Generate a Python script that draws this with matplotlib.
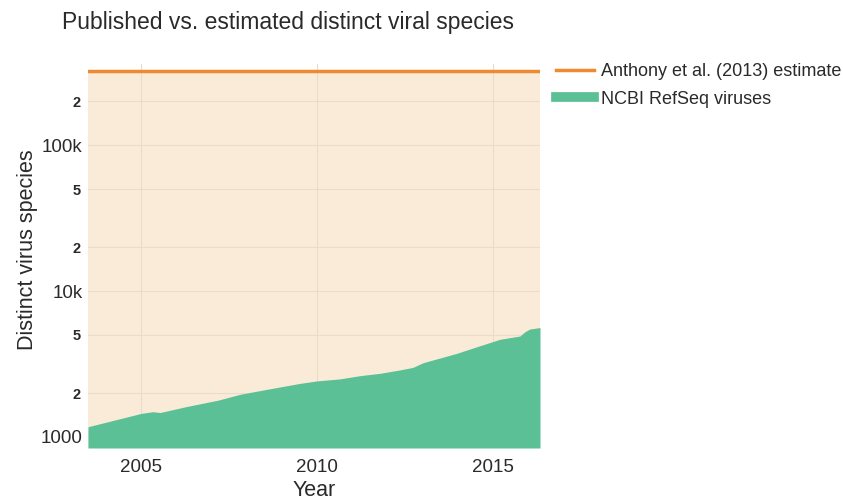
import matplotlib.pyplot as plt
from matplotlib.lines import Line2D
from matplotlib.ticker import FixedLocator, FixedFormatter

# NCBI RefSeq virus counts
years = [2003.49, 2005.0, 2005.34, 2005.54, 2006.26, 2007.2, 2007.81, 2008.76,
         2009.52, 2009.99, 2010.65, 2011.22, 2011.79, 2012.36, 2012.73, 2013.02,
         2013.97, 2014.54, 2015.2, 2015.77, 2015.91, 2016.05, 2016.29, 2016.34]
refseq = [1175, 1450, 1490, 1470, 1610, 1790, 1960, 2160,
          2330, 2420, 2500, 2630, 2730, 2880, 3000, 3230,
          3740, 4150, 4670, 4920, 5260, 5490, 5600, 5620]
anthony_estimate = 320000

xticks = [2005, 2010, 2015]
major_y = [1000, 10000, 100000]
major_labels = ['1000', '10k', '100k']
minor_y = [2000, 5000, 20000, 50000, 200000]
minor_labels = ['2', '5', '2', '5', '2']

orange = '#ef8a32'
beige = '#f9ebd8'
green = '#5cc096'
grid_c = '#e9dccb'
text_c = '#2a2a2a'

plt.rcParams['font.family'] = ['Liberation Sans', 'DejaVu Sans']

fig = plt.figure(figsize=(8.43, 5.0), dpi=100)
ax = fig.add_axes([88 / 843, 52 / 500, 452 / 843, 384 / 500])

ymin, ymax = 840, 360000
xmin, xmax = years[0], years[-1]

ax.set_yscale('log')
ax.set_xlim(xmin, xmax)
ax.set_ylim(ymin, ymax)

# beige fill of the estimate down to the axis, orange line on top
ax.fill_between([xmin, xmax], ymin, anthony_estimate, color=beige, lw=0, zorder=1)
ax.plot([xmin, xmax], [anthony_estimate] * 2, color=orange, lw=2.5, zorder=4)
ax.fill_between(years, ymin, refseq, color=green, lw=0, zorder=3)

ax.yaxis.set_major_locator(FixedLocator(major_y))
ax.yaxis.set_major_formatter(FixedFormatter(major_labels))
ax.yaxis.set_minor_locator(FixedLocator(minor_y))
ax.yaxis.set_minor_formatter(FixedFormatter(minor_labels))
ax.set_xticks(xticks)
ax.set_xticklabels([str(x) for x in xticks])

ax.tick_params(axis='both', which='both', length=0, colors=text_c)
ax.tick_params(axis='y', which='major', labelsize=13.5, pad=4)
ax.tick_params(axis='y', which='minor', labelsize=10.5, pad=5)
ax.tick_params(axis='x', labelsize=13.5, pad=8)
for lbl in ax.yaxis.get_minorticklabels():
    lbl.set_fontweight('bold')

ax.grid(True, which='both', color=grid_c, lw=0.8, zorder=2)
ax.set_axisbelow(False)
for s in ax.spines.values():
    s.set_visible(False)

ax.set_xlabel('Year', fontsize=15.5, color=text_c, labelpad=3)
ax.set_ylabel('Distinct virus species', fontsize=15.5, color=text_c, va='center')
ax.yaxis.set_label_coords(-0.133, 0.516)

fig.text(62 / 843, 1 - 22 / 500, 'Published vs. estimated distinct viral species',
         fontsize=16.5, color=text_c, va='center', ha='left')

handles = [Line2D([], [], color=orange, lw=2.5),
           Line2D([], [], color=green, lw=7)]
ax.legend(handles, ['Anthony et al. (2013) estimate', 'NCBI RefSeq viruses'],
          loc='upper left', bbox_to_anchor=(1.0, 1.045), frameon=False,
          fontsize=13, handlelength=2.1, handletextpad=0.4, labelspacing=0.6,
          labelcolor=text_c)

fig.savefig('out.png', dpi=100)
